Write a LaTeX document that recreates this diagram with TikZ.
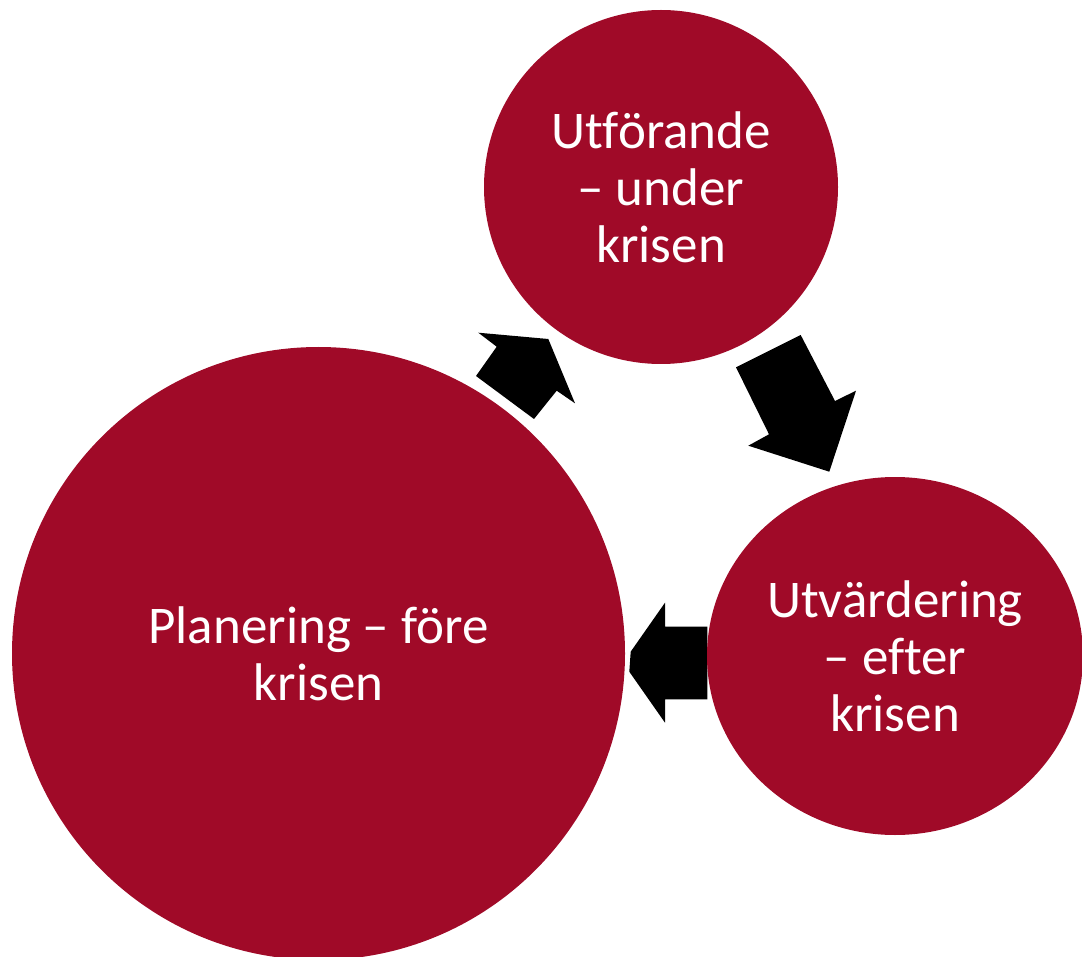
\documentclass[tikz,border=0pt]{standalone}
\usepackage{fontspec}
\setmainfont{Carlito}[Ligatures=NoCommon]
\usetikzlibrary{shapes.geometric}
\definecolor{crim}{RGB}{160,10,40}
\begin{document}
\begin{tikzpicture}[x=1pt,y=-1pt,
  bubble/.style={fill=crim, draw=none, text=white, align=center, inner sep=0pt, font=\fontsize{53}{57}\selectfont},
  blockarrow/.style={fill=black, draw=none}]
\useasboundingbox (0,0) rectangle (1082,957);
\clip (0,0) rectangle (1082,957);
% block arrows
\fill[blockarrow] (476,376) -- (496.7,346.7) -- (478.3,332.7) -- (548.3,339) -- (575,403.3) -- (556.7,390.7) -- (534,419) -- cycle;
\fill[blockarrow] (736,367.3) -- (800.7,335) -- (835,401) -- (856,390.7) -- (829.3,471.7) -- (748.3,445.7) -- (769,434.3) -- cycle;
\fill[blockarrow] (707.3,626.7) -- (665,626.7) -- (665,602.7) -- (630.7,651.7) -- (629.3,671.7) -- (665,722.7) -- (665,699.3) -- (707.3,699.3) -- cycle;
% bubbles
\node[bubble, circle, minimum size=613pt] (plan) at (318.5,653.5) {Planering – före\\krisen};
\node[bubble, circle, minimum size=354pt] (exec) at (661,187) {Utförande\\– under\\krisen};
\node[bubble, ellipse, minimum width=376pt, minimum height=358pt] (eval) at (895,656) {Utvärdering\\– efter\\krisen};
\end{tikzpicture}
\end{document}
